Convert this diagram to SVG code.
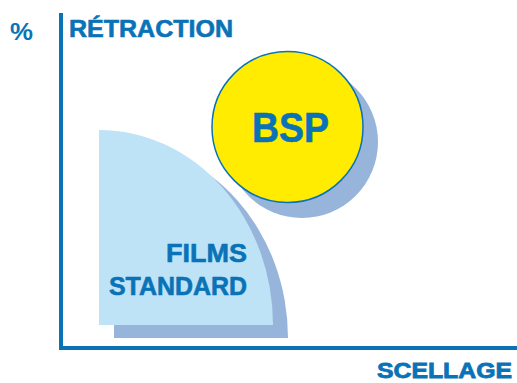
<svg xmlns="http://www.w3.org/2000/svg" width="517" height="383" viewBox="0 0 517 383">
<style>
.t{font-family:"Liberation Sans",Arial,sans-serif;font-weight:bold;fill:#0a73b7;stroke:#0a73b7;stroke-width:0.6}
.sh{fill:#97b5db}
</style>
<rect width="517" height="383" fill="#ffffff"/>
<g id="axes">
<rect x="59" y="13" width="4" height="337" fill="#0a73b7"/>
<rect x="59" y="346" width="458" height="4" fill="#0a73b7"/>
<text class="t" x="10" y="40" font-size="24" textLength="23" lengthAdjust="spacingAndGlyphs" style="stroke-width:0">%</text>
<text class="t" x="69" y="37" font-size="24" textLength="164" lengthAdjust="spacingAndGlyphs">RÉTRACTION</text>
<text class="t" x="377" y="378" font-size="22" textLength="135" lengthAdjust="spacingAndGlyphs" style="stroke-width:0.8">SCELLAGE</text>
</g>
<g id="films">
<path class="sh" d="M114 143 A174 195 0 0 1 288 338 L114 338 Z"/>
<path d="M99 130 A174 195 0 0 1 273 325 L99 325 Z" fill="#bee3f6"/>
<text class="t" x="247" y="262" font-size="26" text-anchor="end" textLength="81" lengthAdjust="spacingAndGlyphs">FILMS</text>
<text class="t" x="247" y="295" font-size="26" text-anchor="end" textLength="138" lengthAdjust="spacingAndGlyphs">STANDARD</text>
</g>
<g id="bsp">
<circle class="sh" cx="302" cy="142" r="76"/>
<circle cx="287.5" cy="127" r="75.5" fill="#ffec00" stroke="#0a73b7" stroke-width="1.5"/>
<text class="t" x="290.5" y="142" font-size="42" text-anchor="middle" textLength="77" lengthAdjust="spacingAndGlyphs">BSP</text>
</g>
</svg>
